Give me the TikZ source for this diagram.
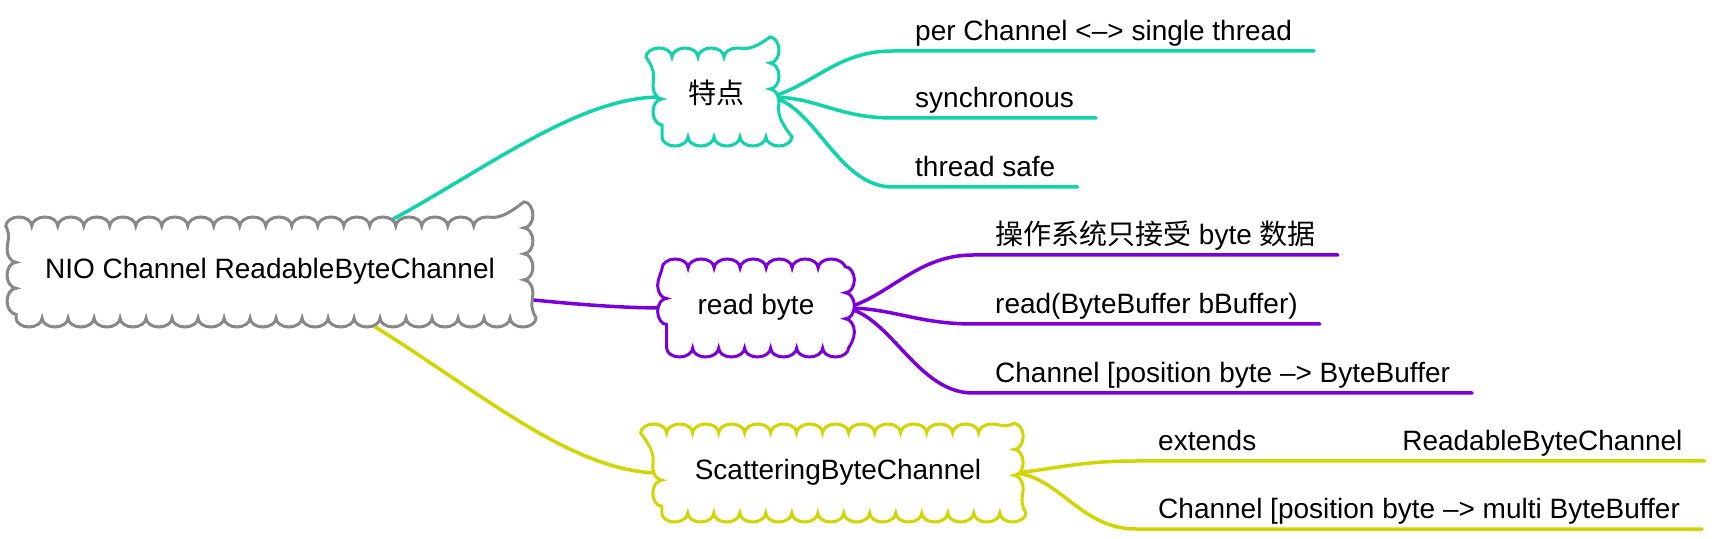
\documentclass[tikz,border=0pt]{standalone}
\usepackage{fontspec}
\setmainfont{Liberation Sans}
\newfontfamily\cjk{Noto Sans CJK SC}
\usetikzlibrary{decorations.pathmorphing,backgrounds}

\definecolor{mapteal}{RGB}{14,212,170}
\definecolor{mappurple}{RGB}{124,0,220}
\definecolor{mapyellow}{RGB}{210,214,0}
\definecolor{mapgray}{RGB}{136,136,136}

\tikzset{
  bubble/.style={draw=#1, line width=3pt, fill=white,
    decorate, decoration={bumps, mirror, segment length=52pt, amplitude=9pt},
    inner xsep=33pt, minimum height=80pt, text height=20pt, text depth=6pt},
  leaf/.style={anchor=south west, inner xsep=22pt, inner ysep=4pt, text height=20pt, text depth=6pt},
  branch/.style={draw=#1, line width=3.5pt, line cap=round},
}

\begin{document}
\begin{tikzpicture}[x=1pt, y=1pt, font=\fontsize{28pt}{34pt}\selectfont]
            \useasboundingbox (0,0) rectangle (1734,538);

            \node[bubble=mapgray, minimum height=92pt, inner xsep=29pt] (root) at (270,266) {NIO Channel ReadableByteChannel};
            \node[bubble=mapteal, inner xsep=26pt] (tedian) at (716,441) {\cjk 特点};
            \node[bubble=mappurple, inner xsep=31pt] (readbyte) at (756,230) {read byte};
            \node[bubble=mapyellow] (scatter) at (838,65) {ScatteringByteChannel};

            \node[leaf] (perchan) at (893,487) {per Channel <--> single thread};
            \node[leaf] (sync) at (893,420) {synchronous};
            \node[leaf] (safe) at (893,351) {thread safe};

            \node[leaf] (osbyte) at (973,283) {{\cjk 操作系统只接受} byte {\cjk 数据}};
            \node[leaf] (readbuf) at (973,214) {read(ByteBuffer bBuffer)};
            \node[leaf] (posbuf) at (973,145) {Channel [position byte --> ByteBuffer};

            \node[leaf] (extends) at (1136,77) {extends\hspace{146pt}ReadableByteChannel};
            \node[leaf] (multibuf) at (1136,9) {Channel [position byte --> multi ByteBuffer};

            \begin{pgfonlayer}{background}
            \draw[branch=mapteal] (root.center) .. controls +(150,42) and +(-112,0) .. (tedian.west);
            \draw[branch=mappurple] (root.center) .. controls +(150,-12) and +(-110,0) .. (readbyte.west);
            \draw[branch=mapyellow] (root.center) .. controls +(150,-60) and +(-115,0) .. (scatter.west);

            \draw[branch=mapteal] (tedian.east) .. controls +(45,14) and +(-55,0) .. (perchan.south west) -- (perchan.south east);
            \draw[branch=mapteal] (tedian.east) .. controls +(45,0) and +(-55,0) .. (sync.south west) -- (sync.south east);
            \draw[branch=mapteal] (tedian.east) .. controls +(45,-10) and +(-55,0) .. (safe.south west) -- (safe.south east);

            \draw[branch=mappurple] (readbyte.east) .. controls +(45,14) and +(-55,0) .. (osbyte.south west) -- (osbyte.south east);
            \draw[branch=mappurple] (readbyte.east) .. controls +(45,0) and +(-55,0) .. (readbuf.south west) -- (readbuf.south east);
            \draw[branch=mappurple] (readbyte.east) .. controls +(45,-10) and +(-55,0) .. (posbuf.south west) -- (posbuf.south east);

            \draw[branch=mapyellow] (scatter.east) .. controls +(45,5) and +(-55,0) .. (extends.south west) -- (extends.south east);
            \draw[branch=mapyellow] (scatter.east) .. controls +(45,-5) and +(-55,0) .. (multibuf.south west) -- (multibuf.south east);
            \end{pgfonlayer}
        \end{tikzpicture}
\end{document}
